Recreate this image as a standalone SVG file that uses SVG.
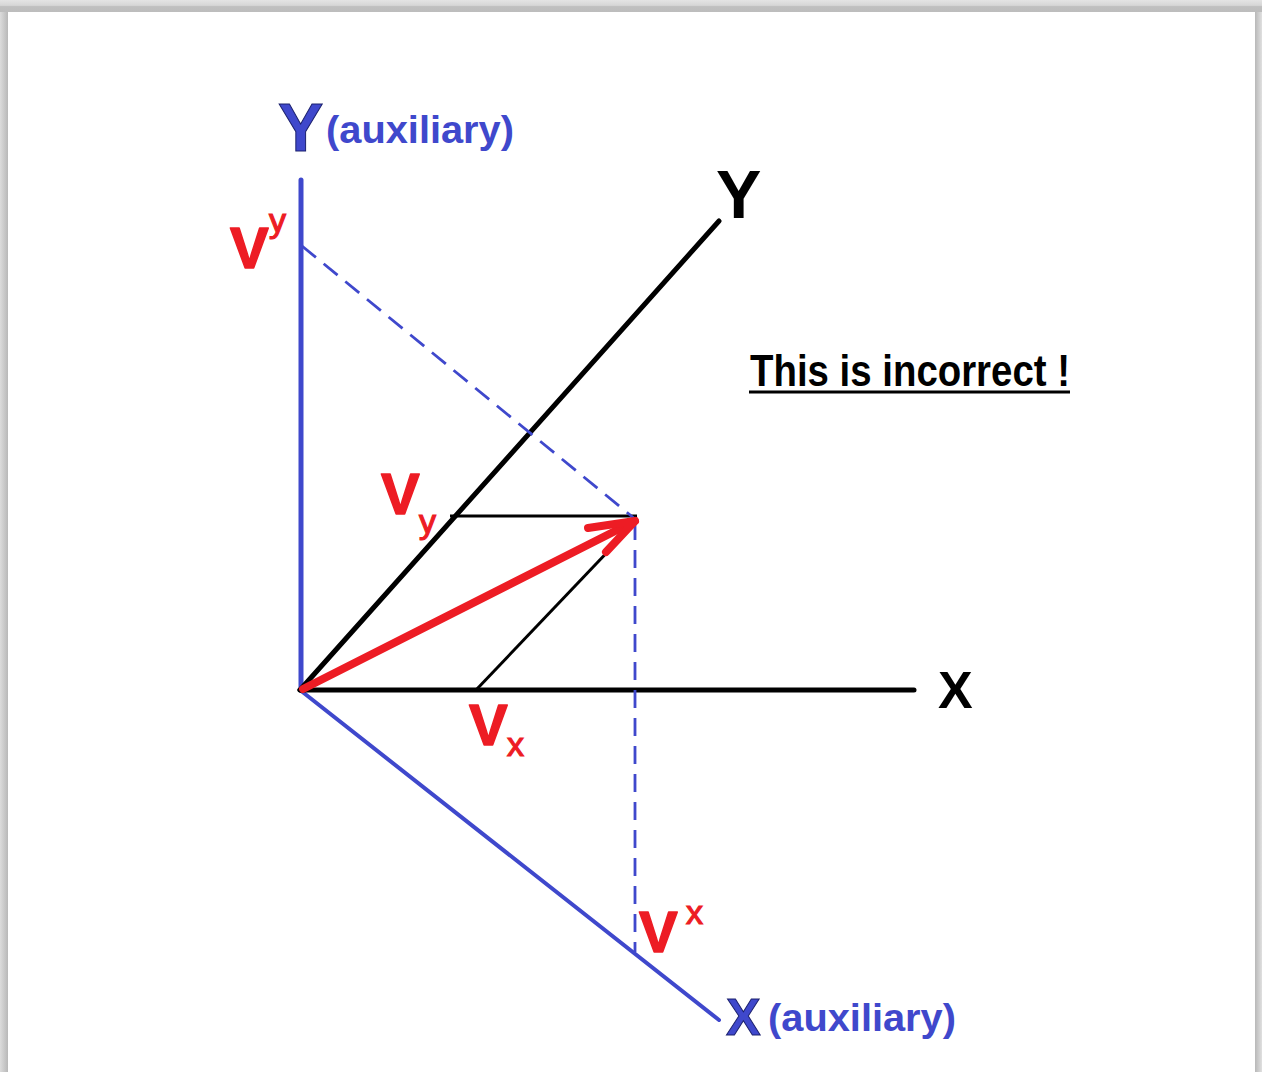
<svg xmlns="http://www.w3.org/2000/svg" width="1262" height="1072" viewBox="0 0 1262 1072">
<defs>
<linearGradient id="gTop" x1="0" y1="0" x2="0" y2="1"><stop offset="0" stop-color="#e4e4e4"/><stop offset="0.45" stop-color="#d6d6d6"/><stop offset="0.55" stop-color="#bfbfbf"/><stop offset="1" stop-color="#bdbdbd"/></linearGradient>
<linearGradient id="gLeft" x1="0" y1="0" x2="1" y2="0"><stop offset="0" stop-color="#dcdcdc"/><stop offset="1" stop-color="#b8b8b8"/></linearGradient>
<linearGradient id="gRight" x1="0" y1="0" x2="1" y2="0"><stop offset="0" stop-color="#b8b8b8"/><stop offset="1" stop-color="#e0e0e0"/></linearGradient>
<style>
.blueAx{stroke:#3f48cc;stroke-width:5;fill:none;stroke-linecap:round}
.blackAx{stroke:#000;stroke-width:5;fill:none;stroke-linecap:round}
.thin{stroke:#000;stroke-width:3;fill:none}
.dash{stroke:#3f48cc;stroke-width:2.8;fill:none;stroke-dasharray:18 10}
.vec{stroke:#ed1c24;stroke-width:8;fill:none;stroke-linecap:round;stroke-linejoin:round}
.lbl{font-family:"Liberation Sans",Arial,sans-serif;font-weight:bold}
.blue{fill:#3f48cc}
.red{fill:#ed1c24;stroke:#ed1c24;stroke-width:1.5;stroke-linejoin:round}
.small{font-family:"Liberation Sans",Arial,sans-serif;font-weight:normal;fill:#ed1c24;stroke:#ed1c24;stroke-width:1.2}
</style>
</defs>
<rect x="0" y="0" width="1262" height="1072" fill="#ffffff"/>
<rect x="0" y="0" width="8" height="1072" fill="url(#gLeft)"/>
<rect x="1255" y="0" width="7" height="1072" fill="url(#gRight)"/>
<rect x="0" y="0" width="1262" height="12" fill="url(#gTop)"/>

<g id="connectors">
<line class="blueAx" x1="301" y1="180" x2="301" y2="690"/>
<line class="blueAx" x1="300" y1="690" x2="719" y2="1020" style="stroke-width:4"/>
<line class="blackAx" x1="300" y1="690" x2="719" y2="221"/>
<line class="blackAx" x1="300" y1="690" x2="914" y2="690"/>
<line class="thin" x1="450" y1="516" x2="637" y2="516"/>
<line class="thin" x1="476" y1="690" x2="636" y2="522"/>
<line class="dash" x1="302" y1="246" x2="635" y2="519"/>
<line class="dash" x1="635" y1="522" x2="635" y2="952"/>
<path class="vec" d="M303,689 L635,521"/>
<path class="vec" d="M588,528 L635,521 L606,552"/>
</g>

<g id="node-yaux"><text class="lbl blue" x="278" y="151" font-size="68" stroke="#1a1f6b" stroke-width="1">Y</text><text class="lbl blue" x="326" y="143" font-size="38" textLength="188" lengthAdjust="spacingAndGlyphs">(auxiliary)</text></g>
<g id="node-y"><text class="lbl" x="716" y="218" font-size="68">Y</text></g>
<g id="node-x"><text class="lbl" x="938" y="708" font-size="52">X</text></g>
<g id="node-xaux"><text class="lbl blue" x="726" y="1035" font-size="52" stroke="#1a1f6b" stroke-width="1">X</text><text class="lbl blue" x="768" y="1031" font-size="38" textLength="188" lengthAdjust="spacingAndGlyphs">(auxiliary)</text></g>
<g id="node-note"><text class="lbl" x="750" y="386" font-size="44" textLength="320" lengthAdjust="spacingAndGlyphs">This is incorrect !</text><line x1="749" y1="392" x2="1070" y2="392" stroke="#000" stroke-width="3"/></g>
<g id="node-vy-sup"><text class="lbl red" x="230" y="268" font-size="58">V</text><text class="small" x="269" y="232" font-size="34">y</text></g>
<g id="node-vy-sub"><text class="lbl red" x="381" y="514" font-size="58">V</text><text class="small" x="419" y="533" font-size="34">y</text></g>
<g id="node-vx-sub"><text class="lbl red" x="469" y="745" font-size="58">V</text><text class="small" x="507" y="756" font-size="34">x</text></g>
<g id="node-vx-sup"><text class="lbl red" x="639" y="952" font-size="58">V</text><text class="small" x="686" y="924" font-size="34">x</text></g>
</svg>
